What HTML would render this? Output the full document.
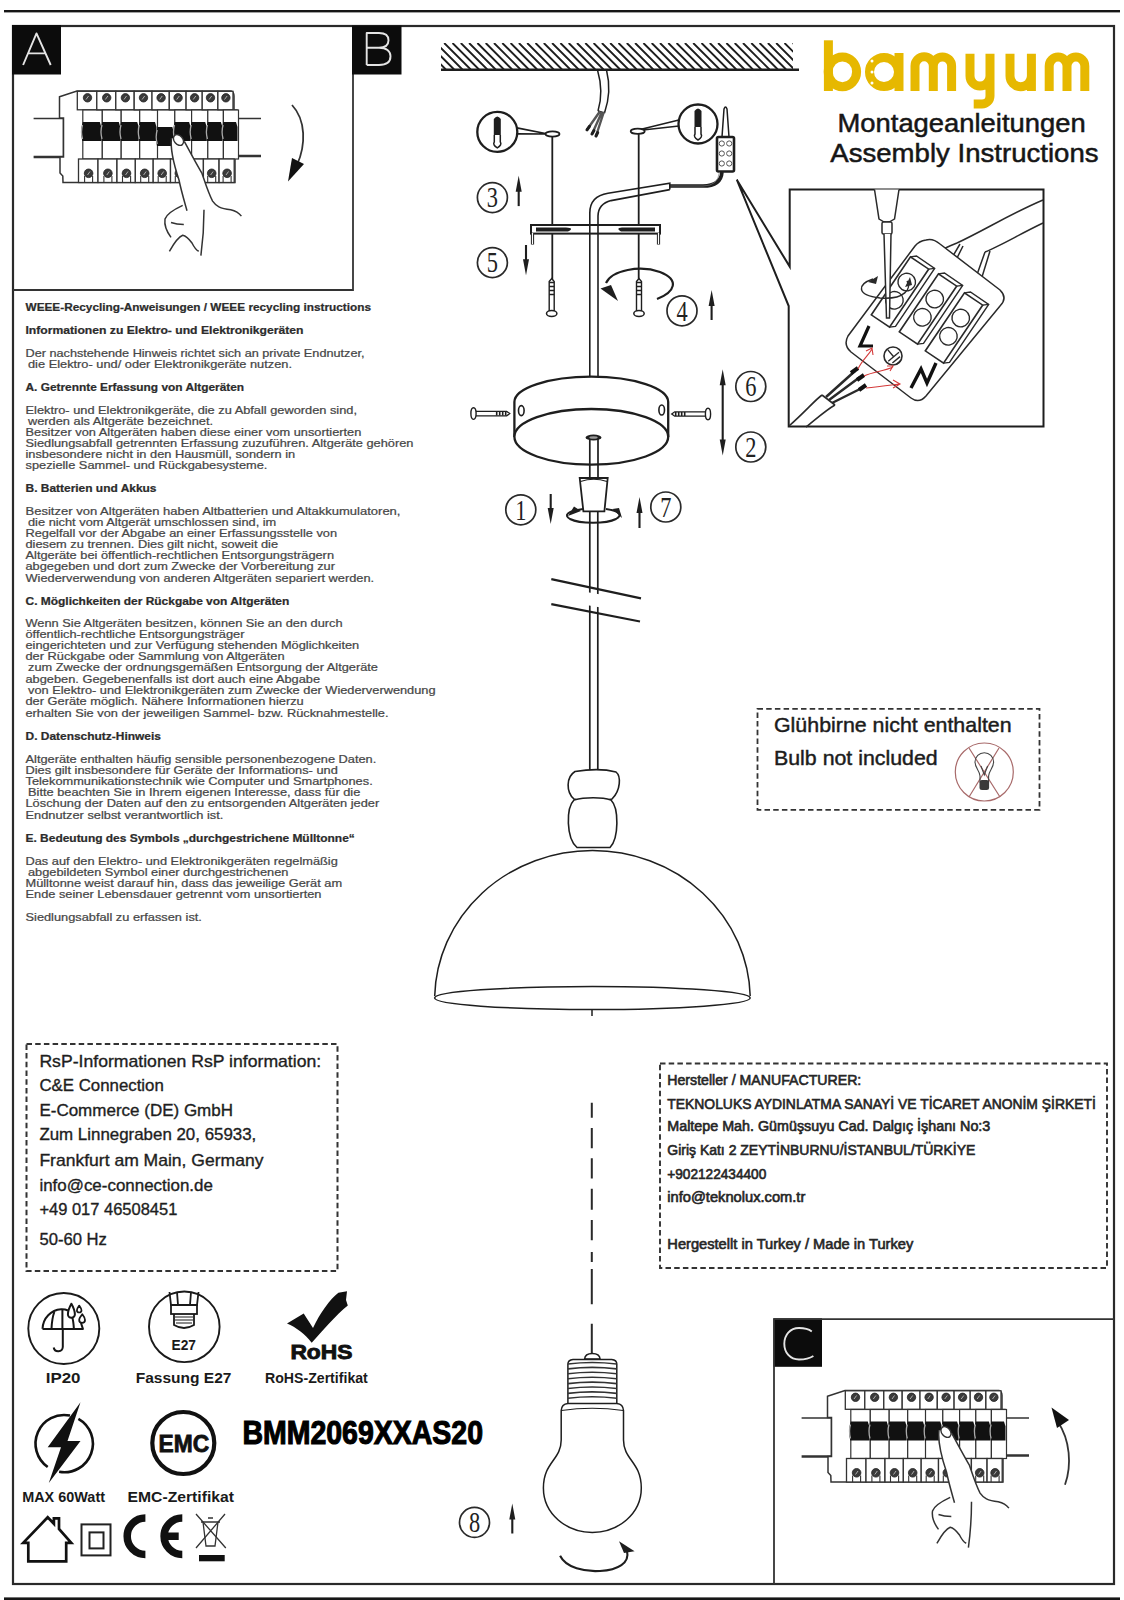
<!DOCTYPE html>
<html><head><meta charset="utf-8"><title>bamyum Montageanleitungen</title>
<style>
html,body{margin:0;padding:0;background:#fff;}
body{width:1124px;height:1600px;overflow:hidden;position:relative;font-family:"Liberation Sans",sans-serif;}
svg{position:absolute;left:0;top:0;}
text{font-family:"Liberation Sans",sans-serif;}
</style></head><body>
<svg width="1124" height="1600" viewBox="0 0 1124 1600" fill="#222">
<rect x="4" y="10" width="1116" height="2.4" fill="#161616"/>
<rect x="13" y="26" width="1101" height="1558" fill="none" stroke="#2a2a2a" stroke-width="2.2"/>
<rect x="4" y="1597.4" width="1116" height="3" fill="#161616"/>
<path d="M13 290 H353 V26" fill="none" stroke="#333" stroke-width="1.8"/>
<rect x="12" y="25" width="49" height="49.5" fill="#0c0c0c"/>
<rect x="352" y="25.5" width="49.5" height="49" fill="#0c0c0c"/>
<rect x="773.5" y="1318.3" width="48.5" height="48.5" fill="#0c0c0c"/>
<g fill="none" stroke="#e4e4e4" stroke-width="1.9" stroke-linejoin="round"><path d="M23.1 65 L36.5 33.4 L50.7 65 M28.5 53.4 H45.4"/><path d="M366.7 65 V33 H379 C386 33 388.5 36.5 388.5 40.3 C388.5 44.5 385.5 47.7 379 47.7 H366.7 M379 47.7 C387 47.7 390.5 51.5 390.5 56.3 C390.5 61.5 387 65 379 65 H366.7"/><path d="M811.8 1331.5 C808 1328.5 804 1328 799 1328 C790 1328 784.3 1335 784.3 1343.7 C784.3 1352.5 790 1359.5 799 1359.5 C805 1359.5 809.5 1358.5 813.4 1356"/></g>
<path d="M774 1584 V1319.2 H1114" fill="none" stroke="#333" stroke-width="1.8"/>
<text x="25.5" y="311.3" font-size="10.2" font-weight="bold" fill="#2c2c2c" textLength="345.5" lengthAdjust="spacingAndGlyphs" stroke="#2c2c2c" stroke-width="0.22">WEEE-Recycling-Anweisungen / WEEE recycling instructions</text>
<text x="25.5" y="334.0" font-size="10.2" font-weight="bold" fill="#2c2c2c" textLength="278.0" lengthAdjust="spacingAndGlyphs" stroke="#2c2c2c" stroke-width="0.22">Informationen zu Elektro- und Elektronikgeräten</text>
<text x="25.5" y="357.0" font-size="10.2" fill="#474747" textLength="339.0" lengthAdjust="spacingAndGlyphs" stroke="#474747" stroke-width="0.22">Der nachstehende Hinweis richtet sich an private Endnutzer,</text>
<text x="28.0" y="367.8" font-size="10.2" fill="#474747" textLength="264.0" lengthAdjust="spacingAndGlyphs" stroke="#474747" stroke-width="0.22">die Elektro- und/ oder Elektronikgeräte nutzen.</text>
<text x="25.5" y="390.8" font-size="10.2" font-weight="bold" fill="#2c2c2c" textLength="218.6" lengthAdjust="spacingAndGlyphs" stroke="#2c2c2c" stroke-width="0.22">A. Getrennte Erfassung von Altgeräten</text>
<text x="25.5" y="414.0" font-size="10.2" fill="#474747" textLength="331.5" lengthAdjust="spacingAndGlyphs" stroke="#474747" stroke-width="0.22">Elektro- und Elektronikgeräte, die zu Abfall geworden sind,</text>
<text x="28.0" y="424.8" font-size="10.2" fill="#474747" textLength="185.0" lengthAdjust="spacingAndGlyphs" stroke="#474747" stroke-width="0.22">werden als Altgeräte bezeichnet.</text>
<text x="25.5" y="435.7" font-size="10.2" fill="#474747" textLength="335.8" lengthAdjust="spacingAndGlyphs" stroke="#474747" stroke-width="0.22">Besitzer von Altgeräten haben diese einer vom unsortierten</text>
<text x="25.5" y="446.9" font-size="10.2" fill="#474747" textLength="388.0" lengthAdjust="spacingAndGlyphs" stroke="#474747" stroke-width="0.22">Siedlungsabfall getrennten Erfassung zuzuführen. Altgeräte gehören</text>
<text x="25.5" y="458.0" font-size="10.2" fill="#474747" textLength="269.7" lengthAdjust="spacingAndGlyphs" stroke="#474747" stroke-width="0.22">insbesondere nicht in den Hausmüll, sondern in</text>
<text x="25.5" y="468.9" font-size="10.2" fill="#474747" textLength="241.9" lengthAdjust="spacingAndGlyphs" stroke="#474747" stroke-width="0.22">spezielle Sammel- und Rückgabesysteme.</text>
<text x="25.5" y="491.9" font-size="10.2" font-weight="bold" fill="#2c2c2c" textLength="131.0" lengthAdjust="spacingAndGlyphs" stroke="#2c2c2c" stroke-width="0.22">B. Batterien und Akkus</text>
<text x="25.5" y="514.7" font-size="10.2" fill="#474747" textLength="375.0" lengthAdjust="spacingAndGlyphs" stroke="#474747" stroke-width="0.22">Besitzer von Altgeräten haben Altbatterien und Altakkumulatoren,</text>
<text x="28.0" y="525.6" font-size="10.2" fill="#474747" textLength="248.3" lengthAdjust="spacingAndGlyphs" stroke="#474747" stroke-width="0.22">die nicht vom Altgerät umschlossen sind, im</text>
<text x="25.5" y="536.7" font-size="10.2" fill="#474747" textLength="311.6" lengthAdjust="spacingAndGlyphs" stroke="#474747" stroke-width="0.22">Regelfall vor der Abgabe an einer Erfassungsstelle von</text>
<text x="25.5" y="547.8" font-size="10.2" fill="#474747" textLength="252.6" lengthAdjust="spacingAndGlyphs" stroke="#474747" stroke-width="0.22">diesem zu trennen. Dies gilt nicht, soweit die</text>
<text x="25.5" y="559.0" font-size="10.2" fill="#474747" textLength="308.5" lengthAdjust="spacingAndGlyphs" stroke="#474747" stroke-width="0.22">Altgeräte bei öffentlich-rechtlichen Entsorgungsträgern</text>
<text x="25.5" y="570.2" font-size="10.2" fill="#474747" textLength="309.5" lengthAdjust="spacingAndGlyphs" stroke="#474747" stroke-width="0.22">abgegeben und dort zum Zwecke der Vorbereitung zur</text>
<text x="25.5" y="581.8" font-size="10.2" fill="#474747" textLength="348.6" lengthAdjust="spacingAndGlyphs" stroke="#474747" stroke-width="0.22">Wiederverwendung von anderen Altgeräten separiert werden.</text>
<text x="25.5" y="604.7" font-size="10.2" font-weight="bold" fill="#2c2c2c" textLength="263.8" lengthAdjust="spacingAndGlyphs" stroke="#2c2c2c" stroke-width="0.22">C. Möglichkeiten der Rückgabe von Altgeräten</text>
<text x="25.5" y="626.8" font-size="10.2" fill="#474747" textLength="317.1" lengthAdjust="spacingAndGlyphs" stroke="#474747" stroke-width="0.22">Wenn Sie Altgeräten besitzen, können Sie an den durch</text>
<text x="25.5" y="637.9" font-size="10.2" fill="#474747" textLength="218.9" lengthAdjust="spacingAndGlyphs" stroke="#474747" stroke-width="0.22">öffentlich-rechtliche Entsorgungsträger</text>
<text x="25.5" y="649.0" font-size="10.2" fill="#474747" textLength="333.7" lengthAdjust="spacingAndGlyphs" stroke="#474747" stroke-width="0.22">eingerichteten und zur Verfügung stehenden Möglichkeiten</text>
<text x="25.5" y="660.1" font-size="10.2" fill="#474747" textLength="259.0" lengthAdjust="spacingAndGlyphs" stroke="#474747" stroke-width="0.22">der Rückgabe oder Sammlung von Altgeräten</text>
<text x="28.0" y="671.3" font-size="10.2" fill="#474747" textLength="350.0" lengthAdjust="spacingAndGlyphs" stroke="#474747" stroke-width="0.22">zum Zwecke der ordnungsgemäßen Entsorgung der Altgeräte</text>
<text x="25.5" y="682.5" font-size="10.2" fill="#474747" textLength="294.6" lengthAdjust="spacingAndGlyphs" stroke="#474747" stroke-width="0.22">abgeben. Gegebenenfalls ist dort auch eine Abgabe</text>
<text x="28.0" y="693.7" font-size="10.2" fill="#474747" textLength="407.6" lengthAdjust="spacingAndGlyphs" stroke="#474747" stroke-width="0.22">von Elektro- und Elektronikgeräten zum Zwecke der Wiederverwendung</text>
<text x="25.5" y="704.9" font-size="10.2" fill="#474747" textLength="278.2" lengthAdjust="spacingAndGlyphs" stroke="#474747" stroke-width="0.22">der Geräte möglich. Nähere Informationen hierzu</text>
<text x="25.5" y="716.7" font-size="10.2" fill="#474747" textLength="363.0" lengthAdjust="spacingAndGlyphs" stroke="#474747" stroke-width="0.22">erhalten Sie von der jeweiligen Sammel- bzw. Rücknahmestelle.</text>
<text x="25.5" y="739.8" font-size="10.2" font-weight="bold" fill="#2c2c2c" textLength="135.4" lengthAdjust="spacingAndGlyphs" stroke="#2c2c2c" stroke-width="0.22">D. Datenschutz-Hinweis</text>
<text x="25.5" y="762.6" font-size="10.2" fill="#474747" textLength="350.8" lengthAdjust="spacingAndGlyphs" stroke="#474747" stroke-width="0.22">Altgeräte enthalten häufig sensible personenbezogene Daten.</text>
<text x="25.5" y="773.8" font-size="10.2" fill="#474747" textLength="312.3" lengthAdjust="spacingAndGlyphs" stroke="#474747" stroke-width="0.22">Dies gilt insbesondere für Geräte der Informations- und</text>
<text x="25.5" y="785.0" font-size="10.2" fill="#474747" textLength="347.2" lengthAdjust="spacingAndGlyphs" stroke="#474747" stroke-width="0.22">Telekommunikationstechnik wie Computer und Smartphones.</text>
<text x="28.0" y="796.2" font-size="10.2" fill="#474747" textLength="332.3" lengthAdjust="spacingAndGlyphs" stroke="#474747" stroke-width="0.22">Bitte beachten Sie in Ihrem eigenen Interesse, dass für die</text>
<text x="25.5" y="807.4" font-size="10.2" fill="#474747" textLength="353.7" lengthAdjust="spacingAndGlyphs" stroke="#474747" stroke-width="0.22">Löschung der Daten auf den zu entsorgenden Altgeräten jeder</text>
<text x="25.5" y="818.6" font-size="10.2" fill="#474747" textLength="197.8" lengthAdjust="spacingAndGlyphs" stroke="#474747" stroke-width="0.22">Endnutzer selbst verantwortlich ist.</text>
<text x="25.5" y="841.9" font-size="10.2" font-weight="bold" fill="#2c2c2c" textLength="329.3" lengthAdjust="spacingAndGlyphs" stroke="#2c2c2c" stroke-width="0.22">E. Bedeutung des Symbols „durchgestrichene Mülltonne“</text>
<text x="25.5" y="864.7" font-size="10.2" fill="#474747" textLength="312.3" lengthAdjust="spacingAndGlyphs" stroke="#474747" stroke-width="0.22">Das auf den Elektro- und Elektronikgeräten regelmäßig</text>
<text x="28.0" y="875.7" font-size="10.2" fill="#474747" textLength="260.4" lengthAdjust="spacingAndGlyphs" stroke="#474747" stroke-width="0.22">abgebildeten Symbol einer durchgestrichenen</text>
<text x="25.5" y="886.8" font-size="10.2" fill="#474747" textLength="316.6" lengthAdjust="spacingAndGlyphs" stroke="#474747" stroke-width="0.22">Mülltonne weist darauf hin, dass das jeweilige Gerät am</text>
<text x="25.5" y="897.9" font-size="10.2" fill="#474747" textLength="296.0" lengthAdjust="spacingAndGlyphs" stroke="#474747" stroke-width="0.22">Ende seiner Lebensdauer getrennt vom unsortierten</text>
<text x="25.5" y="920.8" font-size="10.2" fill="#474747" textLength="176.4" lengthAdjust="spacingAndGlyphs" stroke="#474747" stroke-width="0.22">Siedlungsabfall zu erfassen ist.</text>
<text x="837.5" y="131.7" font-size="26" fill="#161616" textLength="248.2" lengthAdjust="spacingAndGlyphs" stroke="#161616" stroke-width="0.5">Montageanleitungen</text>
<text x="830.3" y="161.9" font-size="26" fill="#161616" textLength="268.3" lengthAdjust="spacingAndGlyphs" stroke="#161616" stroke-width="0.5">Assembly Instructions</text>
<g fill="none" stroke="#e6b800" stroke-width="9"><path d="M828.4 40.3 V91" /><ellipse cx="842.4" cy="71.8" rx="14.2" ry="14.9"/><ellipse cx="884" cy="72" rx="14.5" ry="14.5"/><path d="M899 53 V91"/><path d="M915 91 V66 A9.15 9.15 0 0 1 933.3 66 V91 M933.3 66 A9.15 9.15 0 0 1 951.6 66 V91"/><path d="M1049.2 91 V66 A8.90 8.90 0 0 1 1067.0 66 V91 M1067.0 66 A8.90 8.90 0 0 1 1084.8 66 V91"/><path d="M970 53.7 V76 A10 10 0 0 0 990 76 V53.7 M990 76 V96 A8 8 0 0 1 982 104 H973.7"/><path d="M1010 53.7 V76 A10.7 10.7 0 0 0 1031.4 76 V53.7 M1031.4 70 V91"/></g>
<circle cx="872" cy="61" r="1.5" fill="#fff"/>
<circle cx="872" cy="72" r="1.5" fill="#fff"/>
<circle cx="872" cy="83" r="1.5" fill="#fff"/>
<rect x="757.5" y="708.8" width="282" height="101" fill="none" stroke="#333" stroke-width="1.8" stroke-dasharray="5.5 3.2"/>
<rect x="660" y="1063.5" width="447" height="204.5" fill="none" stroke="#333" stroke-width="1.9" stroke-dasharray="5.5 3.2"/>
<rect x="26.5" y="1044" width="311" height="227" fill="none" stroke="#333" stroke-width="2" stroke-dasharray="5.5 3.2"/>
<text x="774.0" y="731.7" font-size="21" fill="#1c1c1c" textLength="237.6" lengthAdjust="spacingAndGlyphs" stroke="#1c1c1c" stroke-width="0.45">Glühbirne nicht enthalten</text>
<text x="774.0" y="765.0" font-size="21" fill="#1c1c1c" textLength="163.7" lengthAdjust="spacingAndGlyphs" stroke="#1c1c1c" stroke-width="0.45">Bulb not included</text>
<g fill="none" stroke="#a86a6a" stroke-width="1.2"><circle cx="984.3" cy="772" r="29"/><path d="M969 748 L1000 797 M999 748 L969 797"/></g>
<g fill="none" stroke="#444" stroke-width="1.1"><path d="M980 782 V776 C980 771 975 768 975 762 A9.3 9.3 0 0 1 993.6 762 C993.6 768 988.6 771 988.6 776 V782 Z"/><path d="M981 766 L984.3 775 L987.6 766"/></g>
<rect x="979.5" y="780" width="9.6" height="10" rx="2.5" fill="#3a3a3a"/>
<text x="667.3" y="1085.2" font-size="14" fill="#262626" textLength="194.0" lengthAdjust="spacingAndGlyphs" stroke="#262626" stroke-width="0.6">Hersteller / MANUFACTURER:</text>
<text x="667.3" y="1109.1" font-size="14" fill="#262626" textLength="428.5" lengthAdjust="spacingAndGlyphs" stroke="#262626" stroke-width="0.6">TEKNOLUKS AYDINLATMA SANAYİ VE TİCARET ANONİM ŞİRKETİ</text>
<text x="667.3" y="1131.2" font-size="14" fill="#262626" textLength="323.0" lengthAdjust="spacingAndGlyphs" stroke="#262626" stroke-width="0.6">Maltepe Mah. Gümüşsuyu Cad. Dalgıç İşhanı No:3</text>
<text x="667.3" y="1155.3" font-size="14" fill="#262626" textLength="308.0" lengthAdjust="spacingAndGlyphs" stroke="#262626" stroke-width="0.6">Giriş Katı 2 ZEYTİNBURNU/İSTANBUL/TÜRKİYE</text>
<text x="667.3" y="1178.8" font-size="14" fill="#262626" textLength="99.0" lengthAdjust="spacingAndGlyphs" stroke="#262626" stroke-width="0.6">+902122434400</text>
<text x="667.3" y="1201.6" font-size="14" fill="#262626" textLength="138.0" lengthAdjust="spacingAndGlyphs" stroke="#262626" stroke-width="0.6">info@teknolux.com.tr</text>
<text x="667.3" y="1249.0" font-size="14" fill="#262626" textLength="246.0" lengthAdjust="spacingAndGlyphs" stroke="#262626" stroke-width="0.6">Hergestellt in Turkey / Made in Turkey</text>
<text x="39.4" y="1066.9" font-size="17" fill="#1e1e1e" textLength="281.8" lengthAdjust="spacingAndGlyphs" stroke="#1e1e1e" stroke-width="0.35">RsP-Informationen RsP information:</text>
<text x="39.4" y="1091.0" font-size="17" fill="#1e1e1e" textLength="124.4" lengthAdjust="spacingAndGlyphs" stroke="#1e1e1e" stroke-width="0.35">C&amp;E Connection</text>
<text x="39.4" y="1116.1" font-size="17" fill="#1e1e1e" textLength="193.6" lengthAdjust="spacingAndGlyphs" stroke="#1e1e1e" stroke-width="0.35">E-Commerce (DE) GmbH</text>
<text x="39.4" y="1140.3" font-size="17" fill="#1e1e1e" textLength="216.9" lengthAdjust="spacingAndGlyphs" stroke="#1e1e1e" stroke-width="0.35">Zum Linnegraben 20, 65933,</text>
<text x="39.4" y="1166.3" font-size="17" fill="#1e1e1e" textLength="224.0" lengthAdjust="spacingAndGlyphs" stroke="#1e1e1e" stroke-width="0.35">Frankfurt am Main, Germany</text>
<text x="39.4" y="1190.5" font-size="17" fill="#1e1e1e" textLength="173.5" lengthAdjust="spacingAndGlyphs" stroke="#1e1e1e" stroke-width="0.35">info@ce-connection.de</text>
<text x="39.4" y="1215.0" font-size="17" fill="#1e1e1e" textLength="138.0" lengthAdjust="spacingAndGlyphs" stroke="#1e1e1e" stroke-width="0.35">+49 017 46508451</text>
<text x="39.4" y="1245.3" font-size="17" fill="#1e1e1e" textLength="67.5" lengthAdjust="spacingAndGlyphs" stroke="#1e1e1e" stroke-width="0.35">50-60 Hz</text>
<g fill="none" stroke="#1a1a1a" stroke-width="1.9"><circle cx="63.8" cy="1328.5" r="35.5"/><circle cx="184.3" cy="1326.8" r="35.3"/></g>
<g fill="none" stroke="#151515" stroke-width="2" stroke-linejoin="round"><path d="M42.5 1328.9 H82.9 L81 1323 M42.5 1328.9 C43 1318 51 1310 61.1 1309.3 C64 1309.2 66 1309.6 68 1310.5"/><path d="M51.5 1328.9 C51.8 1322 52.8 1316 54.3 1312 M62.4 1328.9 V1310 M73.9 1328.9 C73.6 1324 73.1 1320 72.3 1317.5"/><path d="M62.8 1329 V1347 A4.6 4.6 0 0 1 53.7 1347.5"/><path d="M71.4 1303.7 C69 1308 67.9 1311 67.9 1314.3 A3.5 3.5 0 0 0 74.9 1314.3 C74.9 1311 73.8 1308 71.4 1303.7 Z"/><path d="M79.2 1305.6 C77.9 1307.5 76.9 1309 76.9 1310.2 A2.3 2.3 0 0 0 81.5 1310.2 C81.5 1309 80.5 1307.5 79.2 1305.6 Z" stroke-width="1.7"/><path d="M82.3 1314.3 C80.5 1316.5 79.2 1318.3 79.2 1319.9 A2.9 2.9 0 0 0 85 1319.9 C85 1318.3 84 1316.5 82.3 1314.3 Z" stroke-width="1.8"/></g>
<g fill="none" stroke="#1a1a1a" stroke-width="1.8"><path d="M169.5 1292 L171 1305 H197 L198.5 1292"/><rect x="171" y="1305" width="26" height="9"/><path d="M174 1314 V1325 Q184 1331 194 1325 V1314"/><path d="M177 1292 L178 1305 M191 1292 L190 1305"/></g>
<path d="M175 1317 H193 M175 1320 H193 M176 1323 H192" stroke="#1a1a1a" stroke-width="1.2"/>
<text x="171.5" y="1350.0" font-size="14.5" font-weight="bold" fill="#1a1a1a" textLength="24.5" lengthAdjust="spacingAndGlyphs" >E27</text>
<text x="45.7" y="1382.8" font-size="15.5" font-weight="bold" fill="#1a1a1a" textLength="34.8" lengthAdjust="spacingAndGlyphs" >IP20</text>
<text x="135.7" y="1382.8" font-size="15.5" font-weight="bold" fill="#1a1a1a" textLength="95.8" lengthAdjust="spacingAndGlyphs" >Fassung E27</text>
<path d="M287 1323.4 L303.7 1313.4 L313 1328 C320 1313 330 1299 338.4 1292.7 L347 1291.3 L346 1300 L347.8 1305.4 C336 1315 323 1330 311.7 1342.7 C305 1334 296 1327 287 1323.4 Z" fill="#111"/>
<text x="290.4" y="1358.7" font-size="20.5" font-weight="bold" fill="#111" textLength="62.0" lengthAdjust="spacingAndGlyphs" stroke="#111" stroke-width="0.9">RoHS</text>
<text x="265.0" y="1382.8" font-size="14.5" font-weight="bold" fill="#1a1a1a" textLength="102.8" lengthAdjust="spacingAndGlyphs" >RoHS-Zertifikat</text>
<path d="M78.4 1418.8 A28.6 28.6 0 0 1 59.1 1471.8 M47.7 1467 A28.6 28.6 0 0 1 70 1415.6" fill="none" stroke="#111" stroke-width="2.6"/>
<path d="M80.5 1402.2 L47.7 1447.2 L61 1447.2 L48.8 1483 L80.5 1441 L67.5 1441 Z" fill="#111"/>
<text x="22.2" y="1502.4" font-size="14.5" font-weight="bold" fill="#1a1a1a" textLength="82.8" lengthAdjust="spacingAndGlyphs" >MAX 60Watt</text>
<circle cx="183.3" cy="1443" r="31" fill="none" stroke="#111" stroke-width="4.2"/>
<text x="158.6" y="1452.3" font-size="24" font-weight="bold" fill="#111" textLength="50.6" lengthAdjust="spacingAndGlyphs" stroke="#111" stroke-width="0.8">EMC</text>
<text x="127.5" y="1502.4" font-size="14.5" font-weight="bold" fill="#1a1a1a" textLength="106.5" lengthAdjust="spacingAndGlyphs" >EMC-Zertifikat</text>
<text x="242.4" y="1443.9" font-size="32.5" font-weight="bold" fill="#000" textLength="240.6" lengthAdjust="spacingAndGlyphs" stroke="#000" stroke-width="1.1">BMM2069XXAS20</text>
<path d="M28.3 1561.3 V1542.9 H23.2 L47.7 1517.3 L53.9 1523.8 V1518.3 H59 V1529 L71.3 1542.9 H66.2 V1561.3 Z" fill="none" stroke="#111" stroke-width="2.7" stroke-linejoin="miter"/>
<rect x="81.5" y="1524.4" width="29" height="31" fill="none" stroke="#222" stroke-width="2"/>
<rect x="89.5" y="1532.4" width="14" height="16" fill="none" stroke="#222" stroke-width="2"/>
<path d="M145.4 1518 A18.2 18.2 0 0 0 145.4 1554.4" fill="none" stroke="#111" stroke-width="7.5"/>
<path d="M182.3 1518 A18.2 18.2 0 0 0 182.3 1554.4 M165 1536.2 H178.7" fill="none" stroke="#111" stroke-width="7.5"/>
<g fill="none" stroke="#333" stroke-width="1.3"><path d="M201 1522 H220 M203 1522 L206 1546 H215 L218 1522 M208 1518 H213"/><path d="M196 1514 L225.8 1548 M225 1514 L196 1548"/></g>
<rect x="199" y="1555" width="25.7" height="6.3" fill="#111"/>
<defs><clipPath id="hc"><rect x="441" y="43" width="352" height="26.5"/></clipPath><clipPath id="cordclip"><path d="M0 0 H1124 V1600 H0 Z M540 584 L650 603 L650 616 L540 597 Z" clip-rule="evenodd"/></clipPath></defs>
<path clip-path="url(#hc)" d="M411.0 43 L437.5 69.5 M419.3 43 L445.8 69.5 M427.6 43 L454.1 69.5 M435.9 43 L462.4 69.5 M444.2 43 L470.7 69.5 M452.5 43 L479.0 69.5 M460.8 43 L487.3 69.5 M469.1 43 L495.6 69.5 M477.4 43 L503.9 69.5 M485.7 43 L512.2 69.5 M494.0 43 L520.5 69.5 M502.3 43 L528.8 69.5 M510.6 43 L537.1 69.5 M518.9 43 L545.4 69.5 M527.2 43 L553.7 69.5 M535.5 43 L562.0 69.5 M543.8 43 L570.3 69.5 M552.1 43 L578.6 69.5 M560.4 43 L586.9 69.5 M568.7 43 L595.2 69.5 M577.0 43 L603.5 69.5 M585.3 43 L611.8 69.5 M593.6 43 L620.1 69.5 M601.9 43 L628.4 69.5 M610.2 43 L636.7 69.5 M618.5 43 L645.0 69.5 M626.8 43 L653.3 69.5 M635.1 43 L661.6 69.5 M643.4 43 L669.9 69.5 M651.7 43 L678.2 69.5 M660.0 43 L686.5 69.5 M668.3 43 L694.8 69.5 M676.6 43 L703.1 69.5 M684.9 43 L711.4 69.5 M693.2 43 L719.7 69.5 M701.5 43 L728.0 69.5 M709.8 43 L736.3 69.5 M718.1 43 L744.6 69.5 M726.4 43 L752.9 69.5 M734.7 43 L761.2 69.5 M743.0 43 L769.5 69.5 M751.3 43 L777.8 69.5 M759.6 43 L786.1 69.5 M767.9 43 L794.4 69.5 M776.2 43 L802.7 69.5 M784.5 43 L811.0 69.5 M792.8 43 L819.3 69.5" stroke="#1e1e1e" stroke-width="1.9" fill="none"/>
<path d="M441 69.8 H799" stroke="#1e1e1e" stroke-width="2.6"/>
<g fill="none" stroke="#1e1e1e" stroke-width="1.5"><path d="M597.5 70 C601 82 602 98 598 111"/><path d="M606.5 70 C610 84 609 100 604.5 113"/><path d="M598 111 L604.5 113"/></g>
<g stroke="#555" stroke-width="2.4" stroke-linecap="round"><path d="M599.5 112 L587 129.8 M601.5 113 L592 134 M603.5 113 L596 136"/></g>
<g stroke="#1e1e1e" stroke-width="3" stroke-linecap="round"><path d="M589.5 126.3 L587 129.8 M594 130.5 L592 134 M597.7 132.5 L596 136"/></g>
<path d="M516.9 127.9 L548.0 134.0 L516.9 133.9" fill="none" stroke="#1e1e1e" stroke-width="1.6"/>
<circle cx="497.3" cy="131.9" r="20" fill="#fff" stroke="#1e1e1e" stroke-width="2.3"/>
<path d="M493.8 118.9 Q497.3 113.9 500.8 118.9 V134.9 H493.8 Z" fill="#1e1e1e"/>
<path d="M494.3 134.9 V141.9 Q492.3 144.9 497.3 147.9 Q502.3 144.9 500.3 141.9 V134.9" fill="none" stroke="#1e1e1e" stroke-width="1.5"/>
<path d="M678.9 120.0 L634.0 131.0 L678.9 126.0" fill="none" stroke="#1e1e1e" stroke-width="1.6"/>
<circle cx="698" cy="124" r="19.5" fill="#fff" stroke="#1e1e1e" stroke-width="2.3"/>
<path d="M694.5 111 Q698 106 701.5 111 V127 H694.5 Z" fill="#1e1e1e"/>
<path d="M695 127 V134 Q693 137 698 140 Q703 137 701 134 V127" fill="none" stroke="#1e1e1e" stroke-width="1.5"/>
<ellipse cx="552.5" cy="134" rx="7" ry="2.6" fill="#fff" stroke="#1e1e1e" stroke-width="1.8"/>
<ellipse cx="637.7" cy="131.3" rx="7" ry="2.6" fill="#fff" stroke="#1e1e1e" stroke-width="1.8"/>
<path d="M552.3 136.5 V280 M638.7 134 V280" stroke="#1e1e1e" stroke-width="1.8"/>
<path d="M722 137 L724 109 Q725.5 105 727 109 L729 137" fill="#fff" stroke="#1e1e1e" stroke-width="1.5"/>
<rect x="717" y="137" width="17" height="34.5" rx="1.5" fill="#fff" stroke="#1e1e1e" stroke-width="2.6"/>
<circle cx="721.8" cy="143.5" r="2.6" fill="none" stroke="#555" stroke-width="1"/>
<circle cx="729.2" cy="143.5" r="2.6" fill="none" stroke="#555" stroke-width="1"/>
<circle cx="721.8" cy="153.5" r="2.6" fill="none" stroke="#555" stroke-width="1"/>
<circle cx="729.2" cy="153.5" r="2.6" fill="none" stroke="#555" stroke-width="1"/>
<circle cx="721.8" cy="163.5" r="2.6" fill="none" stroke="#555" stroke-width="1"/>
<circle cx="729.2" cy="163.5" r="2.6" fill="none" stroke="#555" stroke-width="1"/>
<path d="M670 186 H703 Q721 186 722 172" fill="none" stroke="#1e1e1e" stroke-width="3.6"/>
<path d="M670 186 H703 Q718 186 719.5 172" fill="none" stroke="#777" stroke-width="0.7"/>
<g fill="none" stroke="#1e1e1e" stroke-width="1.6"><path d="M589.8 376 V213 Q589.8 196 608 193.2 L669.8 183.2 V189.6"/><path d="M598 376 V216 Q598.3 204 611 200.6 L669.8 189.6"/></g>
<rect x="531" y="225" width="129" height="8.6" fill="#fff" stroke="#1e1e1e" stroke-width="2"/>
<path d="M536 227.5 H566 Q575 228 568 231.5 H536 Z M655 227.5 H622 Q615 228 621 231.5 H655 Z" fill="#1e1e1e"/>
<path d="M532.5 233 V244.5 M658.5 233 V244.5" stroke="#1e1e1e" stroke-width="3.2"/>
<path d="M532.5 233 V244 M658.5 233 V244" stroke="#fff" stroke-width="1.2"/>
<path d="M589.8 225 V233.6 M598 225 V233.6" stroke="#1e1e1e" stroke-width="1.6"/>
<path d="M549.2 281.5 L551.7 278.5 L554.2 281.5 V312 H549.2 Z" fill="#fff" stroke="#1e1e1e" stroke-width="1.4"/>
<path d="M549.2 282.5 H554.2 M549.2 286.5 H554.2 M549.2 290.5 H554.2 M549.2 294.5 H554.2" stroke="#1e1e1e" stroke-width="1.6"/>
<ellipse cx="551.7" cy="313.5" rx="5.2" ry="3" fill="#fff" stroke="#1e1e1e" stroke-width="1.5"/>
<path d="M636.5 281.5 L639 278.5 L641.5 281.5 V312 H636.5 Z" fill="#fff" stroke="#1e1e1e" stroke-width="1.4"/>
<path d="M636.5 282.5 H641.5 M636.5 286.5 H641.5 M636.5 290.5 H641.5 M636.5 294.5 H641.5" stroke="#1e1e1e" stroke-width="1.6"/>
<ellipse cx="639" cy="313.5" rx="5.2" ry="3" fill="#fff" stroke="#1e1e1e" stroke-width="1.5"/>
<path d="M657 299 C675 292 680 280 660 272 C640 265 612 270 606 283" fill="none" stroke="#1e1e1e" stroke-width="2.2"/>
<path d="M600.5 288.5 L618 301 L611 285 Z" fill="#1e1e1e"/>
<g fill="#fff" stroke="#1e1e1e" stroke-width="2.3"><path d="M514.4 437 V402 C514.4 388 549 376.6 591.3 376.6 C633.6 376.6 668.2 388 668.2 402 V437"/><ellipse cx="591.3" cy="436.8" rx="76.9" ry="27.8"/></g>
<ellipse cx="521.3" cy="410.6" rx="2.8" ry="5" fill="none" stroke="#1e1e1e" stroke-width="1.6"/>
<ellipse cx="661.7" cy="410" rx="2.8" ry="5" fill="none" stroke="#1e1e1e" stroke-width="1.6"/>
<path d="M473.5 411.40000000000003 H506.7 L509.7 413.6 L506.7 415.8 H473.5 Z" fill="#fff" stroke="#1e1e1e" stroke-width="1.3"/>
<path d="M505.7 411.6 V415.6 M502.7 411.6 V415.6 M499.7 411.6 V415.6 M496.7 411.6 V415.6" stroke="#1e1e1e" stroke-width="1.6"/>
<ellipse cx="473.5" cy="413.6" rx="2.6" ry="5.8" fill="#fff" stroke="#1e1e1e" stroke-width="1.4"/>
<path d="M708 411.8 H674.7 L671.7 414 L674.7 416.2 H708 Z" fill="#fff" stroke="#1e1e1e" stroke-width="1.3"/>
<path d="M675.7 412 V416 M678.7 412 V416 M681.7 412 V416 M684.7 412 V416" stroke="#1e1e1e" stroke-width="1.6"/>
<ellipse cx="708" cy="414" rx="2.6" ry="5.8" fill="#fff" stroke="#1e1e1e" stroke-width="1.4"/>
<path d="M589.8 437 V479 M598 437 V479" stroke="#1e1e1e" stroke-width="1.7"/>
<ellipse cx="593.5" cy="437.5" rx="8" ry="3" fill="#1e1e1e"/>
<ellipse cx="593.5" cy="437.5" rx="4.2" ry="1.3" fill="#999"/>
<path d="M579.7 478 L607.7 478 L604.4 511.4 L583.4 511.4 Z" fill="#fff" stroke="#1e1e1e" stroke-width="1.8"/>
<path d="M580.5 481.5 Q593.7 477 607 481.5" fill="none" stroke="#1e1e1e" stroke-width="1.2"/>
<path d="M583 509 C568 511 563 515 570 519 C580 524 606 524 616 519 C623 515 620 511 606 509" fill="none" stroke="#1e1e1e" stroke-width="2"/>
<path d="M568 516 L574 506.5 L581 511 Z M622 518 L612.5 509 L619 508 Z" fill="#1e1e1e"/>
<path clip-path="url(#cordclip)" d="M589.8 511.4 V771.5 M597.8 511.4 V771.5" stroke="#1e1e1e" stroke-width="1.7"/>
<path d="M551.3 579.2 L641 598.4 M551.3 604.2 L640 621.5" stroke="#1e1e1e" stroke-width="2.2"/>
<path d="M575 771.5 C590 769 605 769 616 772 C621 776 621 790 612 799 C600 803 585 803 574 799 C566 792 566 777 575 771.5 Z" fill="#fff" stroke="#1e1e1e" stroke-width="1.6"/>
<path d="M574 800 C585 797 602 797 611 800 C619 808 619 838 610 847.5 H577 C566 838 566 808 574 800 Z" fill="#fff" stroke="#1e1e1e" stroke-width="1.6"/>
<path d="M434.7 996 A157.8 149.2 0 0 1 750.2 996" fill="#fff" stroke="#1e1e1e" stroke-width="1.5"/>
<ellipse cx="592.4" cy="998" rx="157.8" ry="11.5" fill="#fff" stroke="#1e1e1e" stroke-width="1.5"/>
<path d="M592 1010 V1016" stroke="#1e1e1e" stroke-width="1.5"/>
<path d="M591.8 1102.7 V1117.8 M591.8 1128 V1148.2 M591.8 1158.3 V1178.6 M591.8 1188.7 V1209.8 M591.8 1220 V1240.2 M591.8 1252 V1262 M591.8 1268.9 V1304.3 M591.8 1323.7 V1354" stroke="#2a2a2a" stroke-width="2"/>
<path d="M584.6 1359 Q585 1353.5 592.3 1353.5 Q599.6 1353.5 600.1 1359 Z" fill="#fff" stroke="#1e1e1e" stroke-width="1.5"/>
<path d="M567.9 1403.4 V1364 Q568 1360 573 1359.5 H611.7 Q616.8 1360 616.8 1364 V1403.4" fill="#fff" stroke="#1e1e1e" stroke-width="1.5"/>
<path d="M568 1364.0 Q592 1361.0 616.7 1364.0 M568 1368.9 Q592 1365.9 616.7 1368.9 M568 1373.8 Q592 1370.8 616.7 1373.8 M568 1378.7 Q592 1375.7 616.7 1378.7 M568 1383.6 Q592 1380.6 616.7 1383.6 M568 1388.5 Q592 1385.5 616.7 1388.5 M568 1393.4 Q592 1390.4 616.7 1393.4 M568 1398.3 Q592 1395.3 616.7 1398.3" fill="none" stroke="#333" stroke-width="1.6"/>
<path d="M561.2 1410.5 Q561.5 1404 568 1403.4 H616.8 Q623.2 1404 623.5 1410.5 V1440 C623.5 1460 641.3 1462 641.3 1488 C641.3 1514 618 1532.4 592.3 1532.4 C566.6 1532.4 543.4 1514 543.4 1488 C543.4 1462 561.2 1460 561.2 1440 Z" fill="#fff" stroke="#1e1e1e" stroke-width="1.5"/>
<path d="M561.5 1410.5 Q592 1406 623.2 1410.5" fill="none" stroke="#1e1e1e" stroke-width="1.2"/>
<path d="M560.1 1555.8 C566 1568 585 1572 600 1571 C618 1570 630 1563 627 1551" fill="none" stroke="#1e1e1e" stroke-width="2.1"/>
<path d="M619 1541.3 L634.6 1551.3 L624 1553 Z" fill="#1e1e1e"/>
<circle cx="492.4" cy="197.6" r="15" fill="#fff" stroke="#2a2a2a" stroke-width="1.7"/>
<text x="486.8" y="207.4" font-size="28.5" textLength="11.2" lengthAdjust="spacingAndGlyphs" fill="#222" style="font-family:'Liberation Serif',serif">3</text>
<circle cx="492.4" cy="262.6" r="15" fill="#fff" stroke="#2a2a2a" stroke-width="1.7"/>
<text x="486.8" y="272.4" font-size="28.5" textLength="11.2" lengthAdjust="spacingAndGlyphs" fill="#222" style="font-family:'Liberation Serif',serif">5</text>
<circle cx="682" cy="310.8" r="15" fill="#fff" stroke="#2a2a2a" stroke-width="1.7"/>
<text x="676.4" y="320.6" font-size="28.5" textLength="11.2" lengthAdjust="spacingAndGlyphs" fill="#222" style="font-family:'Liberation Serif',serif">4</text>
<circle cx="750.8" cy="386.5" r="15" fill="#fff" stroke="#2a2a2a" stroke-width="1.7"/>
<text x="745.2" y="396.3" font-size="28.5" textLength="11.2" lengthAdjust="spacingAndGlyphs" fill="#222" style="font-family:'Liberation Serif',serif">6</text>
<circle cx="750.8" cy="447" r="15" fill="#fff" stroke="#2a2a2a" stroke-width="1.7"/>
<text x="745.2" y="456.8" font-size="28.5" textLength="11.2" lengthAdjust="spacingAndGlyphs" fill="#222" style="font-family:'Liberation Serif',serif">2</text>
<circle cx="520.8" cy="509.8" r="15" fill="#fff" stroke="#2a2a2a" stroke-width="1.7"/>
<text x="515.2" y="519.6" font-size="28.5" textLength="11.2" lengthAdjust="spacingAndGlyphs" fill="#222" style="font-family:'Liberation Serif',serif">1</text>
<circle cx="665.8" cy="507" r="15" fill="#fff" stroke="#2a2a2a" stroke-width="1.7"/>
<text x="660.2" y="516.8" font-size="28.5" textLength="11.2" lengthAdjust="spacingAndGlyphs" fill="#222" style="font-family:'Liberation Serif',serif">7</text>
<circle cx="474.5" cy="1522.4" r="15" fill="#fff" stroke="#2a2a2a" stroke-width="1.7"/>
<text x="468.9" y="1532.2" font-size="28.5" textLength="11.2" lengthAdjust="spacingAndGlyphs" fill="#222" style="font-family:'Liberation Serif',serif">8</text>
<path d="M518.7 206.1 V188.60000000000002" stroke="#1e1e1e" stroke-width="2.1"/>
<path d="M518.7 175.8 L521.7 191.8 L515.7 191.8 Z" fill="#1e1e1e"/>
<path d="M526 245 V262.4" stroke="#1e1e1e" stroke-width="2.1"/>
<path d="M526 275.2 L529 259.2 L523 259.2 Z" fill="#1e1e1e"/>
<path d="M711.6 320 V302.8" stroke="#1e1e1e" stroke-width="2.1"/>
<path d="M711.6 290 L714.6 306 L708.6 306 Z" fill="#1e1e1e"/>
<path d="M722.7 412 V382.1" stroke="#1e1e1e" stroke-width="2.1"/>
<path d="M722.7 369.3 L725.7 385.3 L719.7 385.3 Z" fill="#1e1e1e"/>
<path d="M722.7 412 V442.7" stroke="#1e1e1e" stroke-width="2.1"/>
<path d="M722.7 455.5 L725.7 439.5 L719.7 439.5 Z" fill="#1e1e1e"/>
<path d="M550.7 494 V511.2" stroke="#1e1e1e" stroke-width="2.1"/>
<path d="M550.7 524 L553.7 508 L547.7 508 Z" fill="#1e1e1e"/>
<path d="M639.5 528 V509.8" stroke="#1e1e1e" stroke-width="2.1"/>
<path d="M639.5 497 L642.5 513 L636.5 513 Z" fill="#1e1e1e"/>
<path d="M512.3 1533.5 V1516.3" stroke="#1e1e1e" stroke-width="2.1"/>
<path d="M512.3 1503.5 L515.3 1519.5 L509.29999999999995 1519.5 Z" fill="#1e1e1e"/>
<path d="M1043.5 189.5 H789.7 V266.6 L736.8 179.7 L788.7 306 V426.5 H1043.5 Z" fill="none" stroke="#1e1e1e" stroke-width="2"/>
<g fill="none" stroke="#2a2a2a" stroke-width="1.5"><path d="M1043 200 C1010 214 985 230 957 243"/><path d="M1043 223 C1020 234 1000 246 985 252"/><path d="M957 243 C940 250 925 258 910 262"/><path d="M960 244 L940 278 M963 246 L945 282 M985 252 L968 300 M990 251 L974 303"/></g>
<path d="M926 240 Q933 238 940 244 L1000 290 Q1008 298 1000 306 L926 396 Q919 404 911 398 L851 352 Q843 345 848 336 L915 246 Q919 241 926 240 Z" fill="#fff" stroke="#2a2a2a" stroke-width="1.5"/>
<g transform="translate(900,292) rotate(-56)"><path d="M-35 11 L-31 15.5 H39 V-6.5 L35 -11" fill="#fff" stroke="#2a2a2a" stroke-width="1.4"/><rect x="-35" y="-11" width="70" height="22" fill="#fff" stroke="#2a2a2a" stroke-width="1.6"/><path d="M35 11 L39 15.5" stroke="#2a2a2a" stroke-width="1.4"/><circle cx="-10" cy="0" r="8.8" fill="#fff" stroke="#2a2a2a" stroke-width="1.4"/><circle cx="12" cy="0" r="8.8" fill="#fff" stroke="#2a2a2a" stroke-width="1.4"/></g>
<g transform="translate(928,309) rotate(-56)"><path d="M-35 11 L-31 15.5 H39 V-6.5 L35 -11" fill="#fff" stroke="#2a2a2a" stroke-width="1.4"/><rect x="-35" y="-11" width="70" height="22" fill="#fff" stroke="#2a2a2a" stroke-width="1.6"/><path d="M35 11 L39 15.5" stroke="#2a2a2a" stroke-width="1.4"/><circle cx="-10" cy="0" r="8.8" fill="#fff" stroke="#2a2a2a" stroke-width="1.4"/><circle cx="12" cy="0" r="8.8" fill="#fff" stroke="#2a2a2a" stroke-width="1.4"/></g>
<g transform="translate(954,328) rotate(-56)"><path d="M-35 11 L-31 15.5 H39 V-6.5 L35 -11" fill="#fff" stroke="#2a2a2a" stroke-width="1.4"/><rect x="-35" y="-11" width="70" height="22" fill="#fff" stroke="#2a2a2a" stroke-width="1.6"/><path d="M35 11 L39 15.5" stroke="#2a2a2a" stroke-width="1.4"/><circle cx="-10" cy="0" r="8.8" fill="#fff" stroke="#2a2a2a" stroke-width="1.4"/><circle cx="12" cy="0" r="8.8" fill="#fff" stroke="#2a2a2a" stroke-width="1.4"/></g>
<g fill="#fff" stroke="#2a2a2a" stroke-width="1.5"><path d="M874.5 189.5 L879 219 Q886.5 225 894.5 219 L899 189.5"/><rect x="882" y="222" width="10" height="12" rx="1.5"/><path d="M884 234 L886.5 318 L889.5 318 L891 234"/></g>
<path d="M873 279 C858 284 855 295 880 298 C905 300 912 288 907 281" fill="none" stroke="#2a2a2a" stroke-width="1.5"/>
<path d="M868 282 L878 276 L876 284 Z M905 287 L910 277 L912 285 Z" fill="#2a2a2a"/>
<path d="M869 326 L860 346 H873" fill="none" stroke="#111" stroke-width="3.2"/>
<circle cx="893" cy="356" r="9" fill="#fff" stroke="#2a2a2a" stroke-width="1.6"/>
<path d="M893 348 V357 M886 357 H900 M888 361 H898 M890 364.5 H896" stroke="#2a2a2a" stroke-width="1.4" transform="rotate(-40 893 356)"/>
<path d="M911 388 L921 369 L927 383 L936 363" fill="none" stroke="#111" stroke-width="3.4"/>
<g fill="none" stroke="#2a2a2a" stroke-width="1.6"><path d="M789 426 C805 412 815 400 822 395"/><path d="M806 427 C815 420 826 410 835 405"/><path d="M822 395 L835 405"/><path d="M826 397 L855 371 M829 400 L860 377 M832 403 L862 388" stroke-width="2.5"/></g>
<path d="M851 373 L858 368 M857 380 L864 375 M859 390 L866 385" stroke="#111" stroke-width="4"/>
<g fill="none" stroke="#d43a3a" stroke-width="1.1"><path d="M858 369 C862 360 868 356 872 349 M866 351 L872 348 L873 355"/><path d="M864 376 C872 372 885 371 893 367 M887 366 L893 366 L890 371"/><path d="M866 388 C878 387 892 385 900 384 M893 380 L900 384 L893 388"/></g>
<g transform="translate(0,0)"><path d="M33.6 118.4 H63.5 V156.5 M232 118.4 H261" fill="none" stroke="#333" stroke-width="1.5"/><path d="M33.6 157 H63 M236 156 H261" stroke="#333" stroke-width="2.6"/><path d="M59.5 96.7 L77 91 H231 Q234 92 234 96 V110 H237 V158 H235 V182.5 H63 L62.8 176 L60 173 V157 H63.5 V118 H59.5 Z" fill="#fff" stroke="#333" stroke-width="1.5"/><rect x="77.3" y="91.3" width="19.5" height="18.5" fill="#fff" stroke="#333" stroke-width="1.3"/><circle cx="87.5" cy="97.8" r="4.2" fill="#3a3a3a" stroke="#222" stroke-width="0.8"/><path d="M86.0 99.5 L88.6 96" stroke="#bbb" stroke-width="0.9"/><rect x="82.8" y="110" width="19.5" height="49" fill="#fff" stroke="#333" stroke-width="1.2"/><rect x="78.5" y="159" width="19.5" height="23.5" fill="#fff" stroke="#333" stroke-width="1.3"/><circle cx="88.6" cy="173.3" r="4.3" fill="#3a3a3a" stroke="#222" stroke-width="0.8"/><path d="M87.5 175 L90.0 171.5" stroke="#bbb" stroke-width="0.9"/><path d="M84.6 176 V182.5 M92.6 176 V182.5" stroke="#333" stroke-width="1.1"/><path d="M82.8 122 H99.8 L101.3 127 V141 H82.3 Q79.8 131.5 82.8 122 Z" fill="#111"/><path d="M82.5 125 Q80.5 131.5 82.5 139" fill="none" stroke="#aaa" stroke-width="1.3"/><rect x="96.8" y="91.3" width="18.9" height="18.5" fill="#fff" stroke="#333" stroke-width="1.3"/><circle cx="106.7" cy="97.8" r="4.2" fill="#3a3a3a" stroke="#222" stroke-width="0.8"/><path d="M105.3 99.5 L107.9 96" stroke="#bbb" stroke-width="0.9"/><rect x="102.3" y="110" width="18.9" height="49" fill="#fff" stroke="#333" stroke-width="1.2"/><rect x="98.0" y="159" width="18.9" height="23.5" fill="#fff" stroke="#333" stroke-width="1.3"/><circle cx="107.9" cy="173.3" r="4.3" fill="#3a3a3a" stroke="#222" stroke-width="0.8"/><path d="M106.8 175 L109.3 171.5" stroke="#bbb" stroke-width="0.9"/><path d="M103.9 176 V182.5 M111.9 176 V182.5" stroke="#333" stroke-width="1.1"/><path d="M102.3 122 H118.8 L120.2 127 V141 H101.8 Q99.3 131.5 102.3 122 Z" fill="#111"/><path d="M102.0 125 Q100.0 131.5 102.0 139" fill="none" stroke="#aaa" stroke-width="1.3"/><rect x="115.8" y="91.3" width="18.4" height="18.5" fill="#fff" stroke="#333" stroke-width="1.3"/><circle cx="125.4" cy="97.8" r="4.2" fill="#3a3a3a" stroke="#222" stroke-width="0.8"/><path d="M124.0 99.5 L126.5 96" stroke="#bbb" stroke-width="0.9"/><rect x="121.2" y="110" width="18.4" height="49" fill="#fff" stroke="#333" stroke-width="1.2"/><rect x="117.0" y="159" width="18.4" height="23.5" fill="#fff" stroke="#333" stroke-width="1.3"/><circle cx="126.5" cy="173.3" r="4.3" fill="#3a3a3a" stroke="#222" stroke-width="0.8"/><path d="M125.5 175 L128.0 171.5" stroke="#bbb" stroke-width="0.9"/><path d="M122.5 176 V182.5 M130.6 176 V182.5" stroke="#333" stroke-width="1.1"/><path d="M121.2 122 H137.2 L138.7 127 V141 H120.8 Q118.2 131.5 121.2 122 Z" fill="#111"/><path d="M121.0 125 Q119.0 131.5 121.0 139" fill="none" stroke="#aaa" stroke-width="1.3"/><rect x="134.2" y="91.3" width="17.9" height="18.5" fill="#fff" stroke="#333" stroke-width="1.3"/><circle cx="143.5" cy="97.8" r="4.2" fill="#3a3a3a" stroke="#222" stroke-width="0.8"/><path d="M142.1 99.5 L144.7 96" stroke="#bbb" stroke-width="0.9"/><rect x="139.7" y="110" width="17.9" height="49" fill="#fff" stroke="#333" stroke-width="1.2"/><rect x="135.3" y="159" width="17.9" height="23.5" fill="#fff" stroke="#333" stroke-width="1.3"/><circle cx="144.7" cy="173.3" r="4.3" fill="#3a3a3a" stroke="#222" stroke-width="0.8"/><path d="M143.6 175 L146.1 171.5" stroke="#bbb" stroke-width="0.9"/><path d="M140.7 176 V182.5 M148.7 176 V182.5" stroke="#333" stroke-width="1.1"/><path d="M139.7 122 H155.0 L156.5 127 V141 H139.2 Q136.7 131.5 139.7 122 Z" fill="#111"/><path d="M139.3 125 Q137.3 131.5 139.3 139" fill="none" stroke="#aaa" stroke-width="1.3"/><rect x="152.0" y="91.3" width="17.3" height="18.5" fill="#fff" stroke="#333" stroke-width="1.3"/><circle cx="161.1" cy="97.8" r="4.2" fill="#3a3a3a" stroke="#222" stroke-width="0.8"/><path d="M159.7 99.5 L162.2 96" stroke="#bbb" stroke-width="0.9"/><rect x="157.5" y="110" width="17.3" height="49" fill="#fff" stroke="#333" stroke-width="1.2"/><rect x="153.2" y="159" width="17.3" height="23.5" fill="#fff" stroke="#333" stroke-width="1.3"/><circle cx="162.2" cy="173.3" r="4.3" fill="#3a3a3a" stroke="#222" stroke-width="0.8"/><path d="M161.2 175 L163.7 171.5" stroke="#bbb" stroke-width="0.9"/><path d="M158.2 176 V182.5 M166.2 176 V182.5" stroke="#333" stroke-width="1.1"/><path d="M157.5 127 H172.3 L173.8 132 V146 H157.0 Q154.5 136.5 157.5 127 Z" fill="#111"/><path d="M157.2 130 Q155.2 136.5 157.2 144" fill="none" stroke="#aaa" stroke-width="1.3"/><rect x="169.3" y="91.3" width="16.8" height="18.5" fill="#fff" stroke="#333" stroke-width="1.3"/><circle cx="178.1" cy="97.8" r="4.2" fill="#3a3a3a" stroke="#222" stroke-width="0.8"/><path d="M176.7 99.5 L179.3 96" stroke="#bbb" stroke-width="0.9"/><rect x="174.8" y="110" width="16.8" height="49" fill="#fff" stroke="#333" stroke-width="1.2"/><rect x="170.5" y="159" width="16.8" height="23.5" fill="#fff" stroke="#333" stroke-width="1.3"/><circle cx="179.3" cy="173.3" r="4.3" fill="#3a3a3a" stroke="#222" stroke-width="0.8"/><path d="M178.2 175 L180.7 171.5" stroke="#bbb" stroke-width="0.9"/><path d="M175.3 176 V182.5 M183.3 176 V182.5" stroke="#333" stroke-width="1.1"/><path d="M174.8 122 H189.1 L190.6 127 V141 H174.3 Q171.8 131.5 174.8 122 Z" fill="#111"/><path d="M174.5 125 Q172.5 131.5 174.5 139" fill="none" stroke="#aaa" stroke-width="1.3"/><rect x="186.1" y="91.3" width="16.2" height="18.5" fill="#fff" stroke="#333" stroke-width="1.3"/><circle cx="194.6" cy="97.8" r="4.2" fill="#3a3a3a" stroke="#222" stroke-width="0.8"/><path d="M193.2 99.5 L195.8 96" stroke="#bbb" stroke-width="0.9"/><rect x="191.6" y="110" width="16.2" height="49" fill="#fff" stroke="#333" stroke-width="1.2"/><rect x="187.2" y="159" width="16.2" height="23.5" fill="#fff" stroke="#333" stroke-width="1.3"/><circle cx="195.8" cy="173.3" r="4.3" fill="#3a3a3a" stroke="#222" stroke-width="0.8"/><path d="M194.7 175 L197.2 171.5" stroke="#bbb" stroke-width="0.9"/><path d="M191.8 176 V182.5 M199.8 176 V182.5" stroke="#333" stroke-width="1.1"/><path d="M191.6 122 H205.2 L206.8 127 V141 H191.1 Q188.6 131.5 191.6 122 Z" fill="#111"/><path d="M191.2 125 Q189.2 131.5 191.2 139" fill="none" stroke="#aaa" stroke-width="1.3"/><rect x="202.2" y="91.3" width="15.6" height="18.5" fill="#fff" stroke="#333" stroke-width="1.3"/><circle cx="210.5" cy="97.8" r="4.2" fill="#3a3a3a" stroke="#222" stroke-width="0.8"/><path d="M209.1 99.5 L211.7 96" stroke="#bbb" stroke-width="0.9"/><rect x="207.8" y="110" width="15.6" height="49" fill="#fff" stroke="#333" stroke-width="1.2"/><rect x="203.4" y="159" width="15.6" height="23.5" fill="#fff" stroke="#333" stroke-width="1.3"/><circle cx="211.7" cy="173.3" r="4.3" fill="#3a3a3a" stroke="#222" stroke-width="0.8"/><path d="M210.6 175 L213.1 171.5" stroke="#bbb" stroke-width="0.9"/><path d="M207.7 176 V182.5 M215.7 176 V182.5" stroke="#333" stroke-width="1.1"/><path d="M207.8 122 H220.9 L222.4 127 V141 H207.2 Q204.8 131.5 207.8 122 Z" fill="#111"/><path d="M207.4 125 Q205.4 131.5 207.4 139" fill="none" stroke="#aaa" stroke-width="1.3"/><rect x="217.9" y="91.3" width="15.1" height="18.5" fill="#fff" stroke="#333" stroke-width="1.3"/><circle cx="225.9" cy="97.8" r="4.2" fill="#3a3a3a" stroke="#222" stroke-width="0.8"/><path d="M224.5 99.5 L227.1 96" stroke="#bbb" stroke-width="0.9"/><rect x="223.4" y="110" width="15.1" height="49" fill="#fff" stroke="#333" stroke-width="1.2"/><rect x="219.1" y="159" width="15.1" height="23.5" fill="#fff" stroke="#333" stroke-width="1.3"/><circle cx="227.1" cy="173.3" r="4.3" fill="#3a3a3a" stroke="#222" stroke-width="0.8"/><path d="M226.0 175 L228.5 171.5" stroke="#bbb" stroke-width="0.9"/><path d="M223.1 176 V182.5 M231.1 176 V182.5" stroke="#333" stroke-width="1.1"/><path d="M223.4 122 H236.0 L237.5 127 V141 H222.9 Q220.4 131.5 223.4 122 Z" fill="#111"/><path d="M223.1 125 Q221.1 131.5 223.1 139" fill="none" stroke="#aaa" stroke-width="1.3"/></g>
<g transform="translate(768,1299.5)"><path d="M33.6 118.4 H63.5 V156.5 M232 118.4 H261" fill="none" stroke="#333" stroke-width="1.5"/><path d="M33.6 157 H63 M236 156 H261" stroke="#333" stroke-width="2.6"/><path d="M59.5 96.7 L77 91 H231 Q234 92 234 96 V110 H237 V158 H235 V182.5 H63 L62.8 176 L60 173 V157 H63.5 V118 H59.5 Z" fill="#fff" stroke="#333" stroke-width="1.5"/><rect x="77.3" y="91.3" width="19.5" height="18.5" fill="#fff" stroke="#333" stroke-width="1.3"/><circle cx="87.5" cy="97.8" r="4.2" fill="#3a3a3a" stroke="#222" stroke-width="0.8"/><path d="M86.0 99.5 L88.6 96" stroke="#bbb" stroke-width="0.9"/><rect x="82.8" y="110" width="19.5" height="49" fill="#fff" stroke="#333" stroke-width="1.2"/><rect x="78.5" y="159" width="19.5" height="23.5" fill="#fff" stroke="#333" stroke-width="1.3"/><circle cx="88.6" cy="173.3" r="4.3" fill="#3a3a3a" stroke="#222" stroke-width="0.8"/><path d="M87.5 175 L90.0 171.5" stroke="#bbb" stroke-width="0.9"/><path d="M84.6 176 V182.5 M92.6 176 V182.5" stroke="#333" stroke-width="1.1"/><path d="M82.8 122 H99.8 L101.3 127 V141 H82.3 Q79.8 131.5 82.8 122 Z" fill="#111"/><path d="M82.5 125 Q80.5 131.5 82.5 139" fill="none" stroke="#aaa" stroke-width="1.3"/><rect x="96.8" y="91.3" width="18.9" height="18.5" fill="#fff" stroke="#333" stroke-width="1.3"/><circle cx="106.7" cy="97.8" r="4.2" fill="#3a3a3a" stroke="#222" stroke-width="0.8"/><path d="M105.3 99.5 L107.9 96" stroke="#bbb" stroke-width="0.9"/><rect x="102.3" y="110" width="18.9" height="49" fill="#fff" stroke="#333" stroke-width="1.2"/><rect x="98.0" y="159" width="18.9" height="23.5" fill="#fff" stroke="#333" stroke-width="1.3"/><circle cx="107.9" cy="173.3" r="4.3" fill="#3a3a3a" stroke="#222" stroke-width="0.8"/><path d="M106.8 175 L109.3 171.5" stroke="#bbb" stroke-width="0.9"/><path d="M103.9 176 V182.5 M111.9 176 V182.5" stroke="#333" stroke-width="1.1"/><path d="M102.3 122 H118.8 L120.2 127 V141 H101.8 Q99.3 131.5 102.3 122 Z" fill="#111"/><path d="M102.0 125 Q100.0 131.5 102.0 139" fill="none" stroke="#aaa" stroke-width="1.3"/><rect x="115.8" y="91.3" width="18.4" height="18.5" fill="#fff" stroke="#333" stroke-width="1.3"/><circle cx="125.4" cy="97.8" r="4.2" fill="#3a3a3a" stroke="#222" stroke-width="0.8"/><path d="M124.0 99.5 L126.5 96" stroke="#bbb" stroke-width="0.9"/><rect x="121.2" y="110" width="18.4" height="49" fill="#fff" stroke="#333" stroke-width="1.2"/><rect x="117.0" y="159" width="18.4" height="23.5" fill="#fff" stroke="#333" stroke-width="1.3"/><circle cx="126.5" cy="173.3" r="4.3" fill="#3a3a3a" stroke="#222" stroke-width="0.8"/><path d="M125.5 175 L128.0 171.5" stroke="#bbb" stroke-width="0.9"/><path d="M122.5 176 V182.5 M130.6 176 V182.5" stroke="#333" stroke-width="1.1"/><path d="M121.2 122 H137.2 L138.7 127 V141 H120.8 Q118.2 131.5 121.2 122 Z" fill="#111"/><path d="M121.0 125 Q119.0 131.5 121.0 139" fill="none" stroke="#aaa" stroke-width="1.3"/><rect x="134.2" y="91.3" width="17.9" height="18.5" fill="#fff" stroke="#333" stroke-width="1.3"/><circle cx="143.5" cy="97.8" r="4.2" fill="#3a3a3a" stroke="#222" stroke-width="0.8"/><path d="M142.1 99.5 L144.7 96" stroke="#bbb" stroke-width="0.9"/><rect x="139.7" y="110" width="17.9" height="49" fill="#fff" stroke="#333" stroke-width="1.2"/><rect x="135.3" y="159" width="17.9" height="23.5" fill="#fff" stroke="#333" stroke-width="1.3"/><circle cx="144.7" cy="173.3" r="4.3" fill="#3a3a3a" stroke="#222" stroke-width="0.8"/><path d="M143.6 175 L146.1 171.5" stroke="#bbb" stroke-width="0.9"/><path d="M140.7 176 V182.5 M148.7 176 V182.5" stroke="#333" stroke-width="1.1"/><path d="M139.7 122 H155.0 L156.5 127 V141 H139.2 Q136.7 131.5 139.7 122 Z" fill="#111"/><path d="M139.3 125 Q137.3 131.5 139.3 139" fill="none" stroke="#aaa" stroke-width="1.3"/><rect x="152.0" y="91.3" width="17.3" height="18.5" fill="#fff" stroke="#333" stroke-width="1.3"/><circle cx="161.1" cy="97.8" r="4.2" fill="#3a3a3a" stroke="#222" stroke-width="0.8"/><path d="M159.7 99.5 L162.2 96" stroke="#bbb" stroke-width="0.9"/><rect x="157.5" y="110" width="17.3" height="49" fill="#fff" stroke="#333" stroke-width="1.2"/><rect x="153.2" y="159" width="17.3" height="23.5" fill="#fff" stroke="#333" stroke-width="1.3"/><circle cx="162.2" cy="173.3" r="4.3" fill="#3a3a3a" stroke="#222" stroke-width="0.8"/><path d="M161.2 175 L163.7 171.5" stroke="#bbb" stroke-width="0.9"/><path d="M158.2 176 V182.5 M166.2 176 V182.5" stroke="#333" stroke-width="1.1"/><path d="M157.5 122 H172.3 L173.8 127 V141 H157.0 Q154.5 131.5 157.5 122 Z" fill="#111"/><path d="M157.2 125 Q155.2 131.5 157.2 139" fill="none" stroke="#aaa" stroke-width="1.3"/><rect x="169.3" y="91.3" width="16.8" height="18.5" fill="#fff" stroke="#333" stroke-width="1.3"/><circle cx="178.1" cy="97.8" r="4.2" fill="#3a3a3a" stroke="#222" stroke-width="0.8"/><path d="M176.7 99.5 L179.3 96" stroke="#bbb" stroke-width="0.9"/><rect x="174.8" y="110" width="16.8" height="49" fill="#fff" stroke="#333" stroke-width="1.2"/><rect x="170.5" y="159" width="16.8" height="23.5" fill="#fff" stroke="#333" stroke-width="1.3"/><circle cx="179.3" cy="173.3" r="4.3" fill="#3a3a3a" stroke="#222" stroke-width="0.8"/><path d="M178.2 175 L180.7 171.5" stroke="#bbb" stroke-width="0.9"/><path d="M175.3 176 V182.5 M183.3 176 V182.5" stroke="#333" stroke-width="1.1"/><path d="M174.8 122 H189.1 L190.6 127 V141 H174.3 Q171.8 131.5 174.8 122 Z" fill="#111"/><path d="M174.5 125 Q172.5 131.5 174.5 139" fill="none" stroke="#aaa" stroke-width="1.3"/><rect x="186.1" y="91.3" width="16.2" height="18.5" fill="#fff" stroke="#333" stroke-width="1.3"/><circle cx="194.6" cy="97.8" r="4.2" fill="#3a3a3a" stroke="#222" stroke-width="0.8"/><path d="M193.2 99.5 L195.8 96" stroke="#bbb" stroke-width="0.9"/><rect x="191.6" y="110" width="16.2" height="49" fill="#fff" stroke="#333" stroke-width="1.2"/><rect x="187.2" y="159" width="16.2" height="23.5" fill="#fff" stroke="#333" stroke-width="1.3"/><circle cx="195.8" cy="173.3" r="4.3" fill="#3a3a3a" stroke="#222" stroke-width="0.8"/><path d="M194.7 175 L197.2 171.5" stroke="#bbb" stroke-width="0.9"/><path d="M191.8 176 V182.5 M199.8 176 V182.5" stroke="#333" stroke-width="1.1"/><path d="M191.6 122 H205.2 L206.8 127 V141 H191.1 Q188.6 131.5 191.6 122 Z" fill="#111"/><path d="M191.2 125 Q189.2 131.5 191.2 139" fill="none" stroke="#aaa" stroke-width="1.3"/><rect x="202.2" y="91.3" width="15.6" height="18.5" fill="#fff" stroke="#333" stroke-width="1.3"/><circle cx="210.5" cy="97.8" r="4.2" fill="#3a3a3a" stroke="#222" stroke-width="0.8"/><path d="M209.1 99.5 L211.7 96" stroke="#bbb" stroke-width="0.9"/><rect x="207.8" y="110" width="15.6" height="49" fill="#fff" stroke="#333" stroke-width="1.2"/><rect x="203.4" y="159" width="15.6" height="23.5" fill="#fff" stroke="#333" stroke-width="1.3"/><circle cx="211.7" cy="173.3" r="4.3" fill="#3a3a3a" stroke="#222" stroke-width="0.8"/><path d="M210.6 175 L213.1 171.5" stroke="#bbb" stroke-width="0.9"/><path d="M207.7 176 V182.5 M215.7 176 V182.5" stroke="#333" stroke-width="1.1"/><path d="M207.8 122 H220.9 L222.4 127 V141 H207.2 Q204.8 131.5 207.8 122 Z" fill="#111"/><path d="M207.4 125 Q205.4 131.5 207.4 139" fill="none" stroke="#aaa" stroke-width="1.3"/><rect x="217.9" y="91.3" width="15.1" height="18.5" fill="#fff" stroke="#333" stroke-width="1.3"/><circle cx="225.9" cy="97.8" r="4.2" fill="#3a3a3a" stroke="#222" stroke-width="0.8"/><path d="M224.5 99.5 L227.1 96" stroke="#bbb" stroke-width="0.9"/><rect x="223.4" y="110" width="15.1" height="49" fill="#fff" stroke="#333" stroke-width="1.2"/><rect x="219.1" y="159" width="15.1" height="23.5" fill="#fff" stroke="#333" stroke-width="1.3"/><circle cx="227.1" cy="173.3" r="4.3" fill="#3a3a3a" stroke="#222" stroke-width="0.8"/><path d="M226.0 175 L228.5 171.5" stroke="#bbb" stroke-width="0.9"/><path d="M223.1 176 V182.5 M231.1 176 V182.5" stroke="#333" stroke-width="1.1"/><path d="M223.4 122 H236.0 L237.5 127 V141 H222.9 Q220.4 131.5 223.4 122 Z" fill="#111"/><path d="M223.1 125 Q221.1 131.5 223.1 139" fill="none" stroke="#aaa" stroke-width="1.3"/></g>
<g transform="translate(0,0)"><path d="M171.5 138 C170 150 174 165 179 180 C181 190 184 200 187 210.7 L182.7 205.4 C175 209 167 213 165 219 C164 226 167 232 171 237.4 L169.4 251.3 C173 245 178 237 182.7 235.3 C186 236 189 239 192 243 C194 247 196 250 198.7 251.3 L200.9 255.6 L204 209.7 L241.4 216.1 C239 213 236 211 230.7 209.7 C220 208.6 216 206 212.6 201.1 C208 192 205 182 202 173.4 C197 165 190 152 184.3 141.4 Z" fill="#fff"/><path d="M171.5 138 C170 150 174 165 179 180 C181 190 184 200 187 210.7 M184.3 141.4 C190 152 197 165 202 173.4 C205 182 208 192 212.6 201.1 C216 206 220 208.6 230.7 209.7 C236 211 239 213 241.4 216.1 M182.7 205.4 C175 209 167 213 165 219 C164 226 167 232 171 237.4 M171 222.5 C175 224 180 224.6 183.8 224.6 M204 209.7 C204 225 203 240 200.9 255.6 M169.4 251.3 C173 245 178 237 182.7 235.3 C186 236 189 239 192 243 C194 247 196 250 198.7 251.3" fill="none" stroke="#333" stroke-width="1.5"/><ellipse cx="178.5" cy="140" rx="6" ry="4.3" transform="rotate(50 178.5 140)" fill="#fff" stroke="#333" stroke-width="1.4"/></g>
<g transform="translate(767.5,1292)"><path d="M171.5 138 C170 150 174 165 179 180 C181 190 184 200 187 210.7 L182.7 205.4 C175 209 167 213 165 219 C164 226 167 232 171 237.4 L169.4 251.3 C173 245 178 237 182.7 235.3 C186 236 189 239 192 243 C194 247 196 250 198.7 251.3 L200.9 255.6 L204 209.7 L241.4 216.1 C239 213 236 211 230.7 209.7 C220 208.6 216 206 212.6 201.1 C208 192 205 182 202 173.4 C197 165 190 152 184.3 141.4 Z" fill="#fff"/><path d="M171.5 138 C170 150 174 165 179 180 C181 190 184 200 187 210.7 M184.3 141.4 C190 152 197 165 202 173.4 C205 182 208 192 212.6 201.1 C216 206 220 208.6 230.7 209.7 C236 211 239 213 241.4 216.1 M182.7 205.4 C175 209 167 213 165 219 C164 226 167 232 171 237.4 M171 222.5 C175 224 180 224.6 183.8 224.6 M204 209.7 C204 225 203 240 200.9 255.6 M169.4 251.3 C173 245 178 237 182.7 235.3 C186 236 189 239 192 243 C194 247 196 250 198.7 251.3" fill="none" stroke="#333" stroke-width="1.5"/><ellipse cx="178.5" cy="140" rx="6" ry="4.3" transform="rotate(50 178.5 140)" fill="#fff" stroke="#333" stroke-width="1.4"/></g>
<path d="M292 105 C306 120 306 145 297 165" fill="none" stroke="#333" stroke-width="1.8"/>
<path d="M288 181.5 L292 158 L304 164 Z" fill="#111"/>
<path d="M1065 1484.8 C1072 1465 1070 1440 1058 1422" fill="none" stroke="#333" stroke-width="1.8"/>
<path d="M1051.5 1407.4 L1069 1420 L1057 1428 Z" fill="#111"/>
</svg>
</body></html>
